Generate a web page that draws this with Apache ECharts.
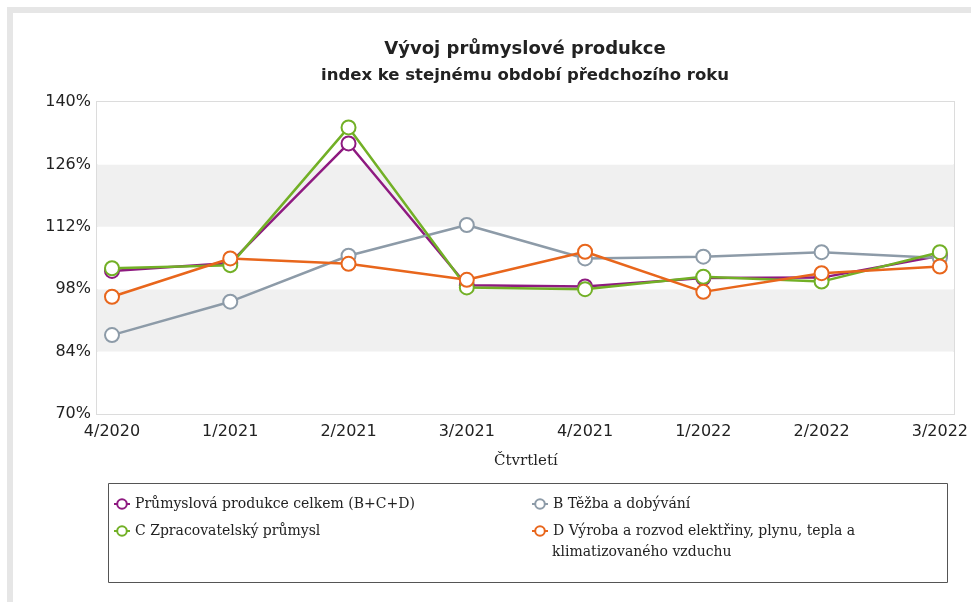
<!DOCTYPE html>
<html>
<head>
<meta charset="utf-8">
<script src="https://cdn.jsdelivr.net/npm/echarts@6/dist/echarts.min.js"></script>
<style>
html,body{margin:0;padding:0;background:#fff;}
#frame{position:absolute;left:7px;top:7px;width:980px;height:600px;border-top:6px solid #e6e6e6;border-left:6px solid #e6e6e6;}
#chart{position:absolute;left:0;top:0;width:971px;height:602px;}
</style>
</head>
<body>
<div id="frame"></div>
<div id="chart"></div>
<script>
const categories = ['4/2020','1/2021','2/2021','3/2021','4/2021','1/2022','2/2022','3/2022'];
const yTicks = [70, 84, 98, 112, 126, 140];
const seriesNames = [
  'Průmyslová produkce celkem (B+C+D)',
  'B Těžba a dobývání',
  'C Zpracovatelský průmysl',
  'D Výroba a rozvod elektřiny, plynu, tepla a klimatizovaného vzduchu'
];
const legendLine1D = 'D Výroba a rozvod elektřiny, plynu, tepla a';
const legendLine2D = 'klimatizovaného vzduchu';
const totalBCD = [102.1, 103.9, 130.7, 98.9, 98.6, 100.5, 100.6, 105.5];
const mining   = [87.7, 95.2, 105.5, 112.4, 104.9, 105.3, 106.3, 105.0];
const manufact = [102.7, 103.4, 134.3, 98.4, 98.0, 100.8, 99.7, 106.3];
const energy   = [96.3, 104.9, 103.7, 100.1, 106.4, 97.4, 101.6, 103.1];

const colors = ['#8e1a80', '#8d9ba8', '#72b026', '#e8661c'];
const values = [totalBCD, mining, manufact, energy];

const chart = echarts.init(document.getElementById('chart'));
const yMin = yTicks[0], yMax = yTicks[yTicks.length-1], yStep = yTicks[1]-yTicks[0];

const legendFont = {fontFamily:'DejaVu Serif', fontSize:14, color:'#222'};
const axisFont = {fontFamily:'DejaVu Sans', fontSize:16, color:'#222'};

function legendAt(name, left, top, formatter){
  return {orient:'horizontal', left:left, top:top, padding:0, itemWidth:16, itemHeight:12, itemGap:0,
          data:[name], textStyle:legendFont, formatter: formatter || '{name}'};
}

chart.setOption({
  animation:false,
  backgroundColor:'transparent',
  title:{
    text:'Vývoj průmyslové produkce',
    subtext:'index ke stejnému období předchozího roku',
    left:525, textAlign:'center', top:40, itemGap:9, padding:0,
    textStyle:{fontFamily:'DejaVu Sans', fontSize:18, fontWeight:'bold', color:'#222'},
    subtextStyle:{fontFamily:'DejaVu Sans', fontSize:16.5, fontWeight:'bold', color:'#222'}
  },
  grid:[
    {left:97, right:17, top:102, bottom:188, show:true, borderColor:'#dcdcdc', borderWidth:2, backgroundColor:'#fff'},
    {left:112, right:31, top:102, bottom:188}
  ],
  xAxis:[
    {gridIndex:0, type:'value', min:0, max:1, show:false},
    {gridIndex:1, type:'category', data:categories, boundaryGap:false,
     axisLine:{show:false}, axisTick:{show:false},
     axisLabel:Object.assign({margin:10, interval:0}, axisFont),
     name:'Čtvrtletí', nameLocation:'middle', nameGap:40,
     nameTextStyle:{fontFamily:'DejaVu Serif', fontSize:15, color:'#222'}}
  ],
  yAxis:[
    {gridIndex:0, type:'value', min:yMin, max:yMax, interval:yStep,
     axisLine:{show:false}, axisTick:{show:false},
     axisLabel:Object.assign({margin:6, formatter:'{value}%'}, axisFont),
     splitLine:{show:false},
     splitArea:{show:true, areaStyle:{color:['#ffffff','#f0f0f0']}}},
    {gridIndex:1, type:'value', min:yMin, max:yMax, interval:yStep, show:false, splitLine:{show:false}}
  ],
  legend:[
    legendAt(seriesNames[0], 113, 497),
    legendAt(seriesNames[2], 113, 524),
    legendAt(seriesNames[1], 531, 497),
    legendAt(seriesNames[3], 531, 524, function(){ return legendLine1D; })
  ],
  graphic:[
    {type:'rect', left:106, top:481, shape:{width:839, height:99}, style:{fill:'none', stroke:'#555', lineWidth:1}, z:-1},
    {type:'text', left:552, top:545, style:{text:legendLine2D, font:'14px "DejaVu Serif"', fill:'#222'}}
  ],
  series: values.map((v,i)=>({
    name:seriesNames[i], type:'line', xAxisIndex:1, yAxisIndex:1, data:v,
    symbol:'emptyCircle', symbolSize:14,
    lineStyle:{color:colors[i], width:2.5},
    itemStyle:{color:colors[i], borderWidth:2.5},
    z: 2+i
  }))
});
</script>
</body>
</html>
